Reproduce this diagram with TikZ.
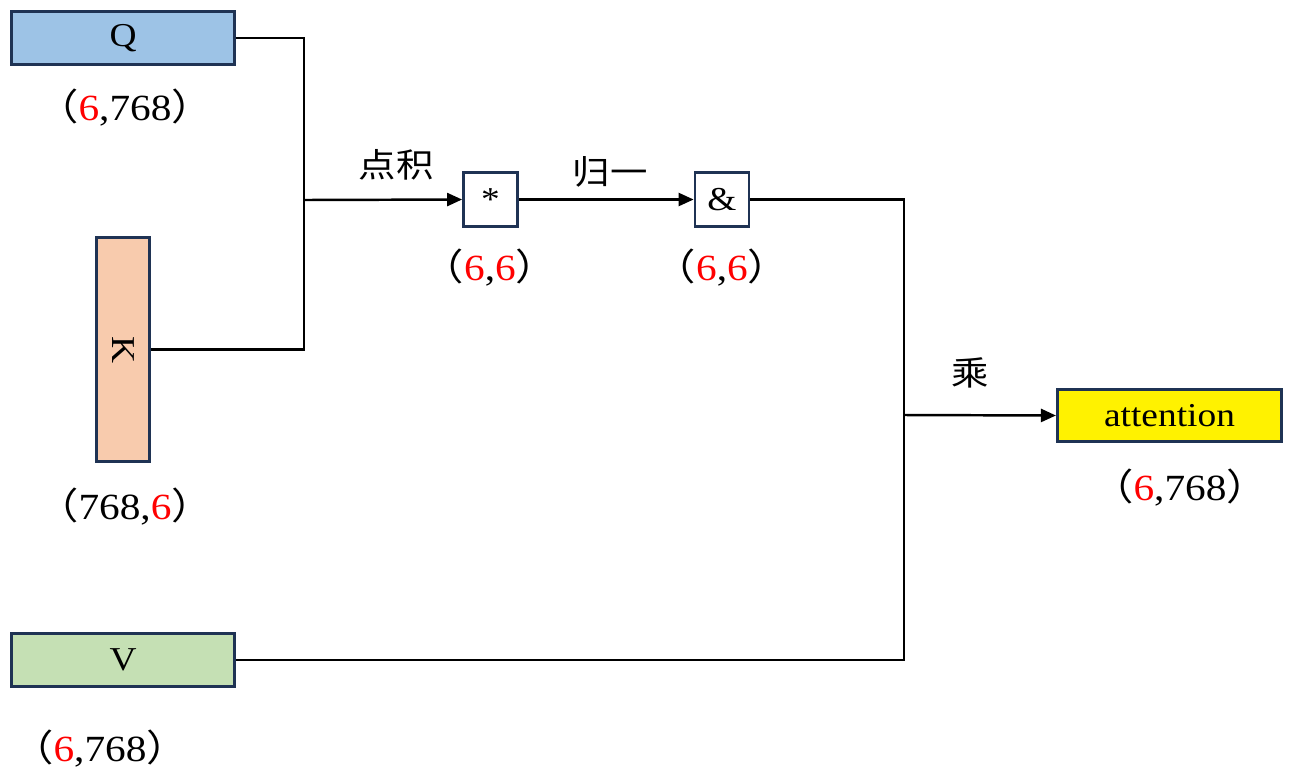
\documentclass[tikz,border=0pt]{standalone}
\usepackage{fontspec}
\setmainfont{Liberation Serif}[FakeStretch=1.12]
\newfontfamily\cjk{Noto Sans CJK SC}[FakeStretch=1.12]
\usepackage{xcolor}
\usetikzlibrary{arrows.meta}
\definecolor{qblue}{HTML}{9DC3E6}
\definecolor{kpeach}{HTML}{F8CBAD}
\definecolor{vgreen}{HTML}{C5E0B4}
\definecolor{boxline}{HTML}{1F3354}
\newcommand{\dimlabel}[2]{{\cjk （}#1,#2{\cjk ）}}

\begin{document}
\begin{tikzpicture}[x=0.02cm, y=-0.02cm,
  box/.style={draw=boxline, line width=1.8pt, font=\fontsize{19}{22}\selectfont, inner sep=0pt},
  hbox/.style={box, minimum width=4.46cm, minimum height=1.06cm},
  opbox/.style={box, fill=white, line width=1.6pt, minimum size=1.08cm},
  dim/.style={font=\fontsize{21}{24}\selectfont},
  op/.style={font=\cjk\fontsize{19}{22}\selectfont},
  wire/.style={line width=1.4pt},
  arr/.style={wire, -{Triangle[length=0.3cm, width=0.26cm]}}]
  \useasboundingbox (0,0) rectangle (1294,778);

  % inputs
  \node[hbox, fill=qblue] (q) at (123,38) {Q};
  \node[box, fill=kpeach, minimum width=1.06cm, minimum height=4.48cm] (k) at (123,349.5) {\rotatebox{-90}{K}};
  \node[hbox, fill=vgreen] (v) at (123,660) {V};
  \node[dim] (qdim) at (125,108) {\dimlabel{\textcolor{red}{6}}{768}};
  \node[dim] (kdim) at (125,507) {\dimlabel{768}{\textcolor{red}{6}}};
  \node[dim] (vdim) at (100,749) {\dimlabel{\textcolor{red}{6}}{768}};

  % operations
  \node[opbox] (mul) at (490.5,199.5) {*};
  \node[opbox] (norm) at (722,199.5) {\&};
  \node[dim] (muldim) at (490,268) {\dimlabel{\textcolor{red}{6}}{\textcolor{red}{6}}};
  \node[dim] (normdim) at (722,268) {\dimlabel{\textcolor{red}{6}}{\textcolor{red}{6}}};

  % output
  \node[hbox, fill=yellow, minimum width=4.48cm, minimum height=1.04cm] (att) at (1169.5,415.5) {attention};
  \node[dim] (attdim) at (1180,488) {\dimlabel{\textcolor{red}{6}}{768}};

  % connectors
  \coordinate (qk) at (304,200);
  \coordinate (sv) at (904,415);
  \draw[wire] (q.east) -| (qk);
  \draw[wire] (k.east) -| (qk);
  \draw[arr] (qk) -- (mul.west);
  \draw[arr] (mul.east) -- (norm.west);
  \draw[wire] (norm.east) -| (sv);
  \draw[wire] (v.east) -| (sv);
  \draw[arr] (sv) -- (att.west);

  \node[op] (dot) at (396,165) {点积};
  \node[op] (softmax) at (610,172) {归一};
  \node[op] (times) at (970,373) {乘};
\end{tikzpicture}
\end{document}
